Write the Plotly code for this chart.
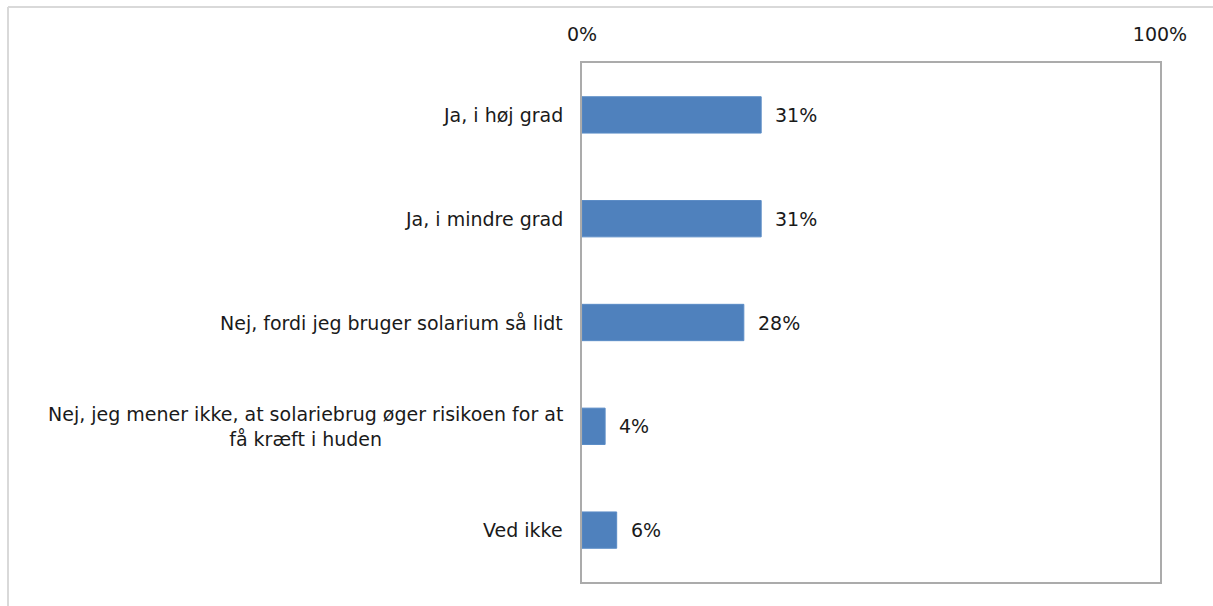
import plotly.graph_objects as go

categories = [
    "Ja, i høj grad",
    "Ja, i mindre grad",
    "Nej, fordi jeg bruger solarium så lidt",
    "Nej, jeg mener ikke, at solariebrug øger risikoen for at<br>få kræft i huden",
    "Ved ikke",
]
values = [31, 31, 28, 4, 6]
tick_vals = [0, 100]
tick_text = ["0%", "100%"]

BAR = "#4f81bd"
FRAME = "#ababab"
FONT = "'DejaVu Sans', 'Noto Sans', sans-serif"
TXT = "#1a1a1a"
FS = 19

ypos = list(range(len(categories)))

fig = go.Figure(
    go.Bar(
        x=values,
        y=ypos,
        orientation="h",
        width=0.35,
        marker=dict(color=BAR, line=dict(color="#5b8cc6", width=1)),
        hoverinfo="skip",
    )
)

# value labels to the right of each bar
for yi, v in zip(ypos, values):
    fig.add_annotation(
        x=v, y=yi, xref="x", yref="y",
        text=f"{v}%", showarrow=False,
        xanchor="left", xshift=12,
        font=dict(family=FONT, size=FS, color=TXT),
    )

# category labels, centred line by line, right-aligned to the axis
for yi, c in zip(ypos, categories):
    fig.add_annotation(
        x=0, y=yi, xref="paper", yref="y",
        text=c, showarrow=False,
        xanchor="right", align="center", xshift=-17,
        font=dict(family=FONT, size=FS, color=TXT),
    )

# outer chart frame (left and top edges)
L, T, PW, PH = 582, 63, 578, 519
fx = (8 - L) / PW
fy = 1 + (T - 7) / PH
fig.add_shape(type="line", xref="paper", yref="paper",
              x0=fx, x1=fx, y0=fy, y1=-1,
              line=dict(color="#d9d9d9", width=2))
fig.add_shape(type="line", xref="paper", yref="paper",
              x0=fx, x1=2, y0=fy, y1=fy,
              line=dict(color="#d9d9d9", width=2))

fig.update_layout(
    width=1213, height=606,
    margin=dict(l=L, r=1213 - L - PW, t=T, b=606 - T - PH),
    paper_bgcolor="white", plot_bgcolor="white",
    showlegend=False,
    font=dict(family=FONT, size=FS, color=TXT),
    xaxis=dict(
        range=[0, 100], side="top",
        tickvals=tick_vals, ticktext=tick_text,
        showgrid=False, zeroline=False,
        showline=True, mirror=True, linecolor=FRAME, linewidth=2,
        ticks="", ticklabelstandoff=12,
        tickfont=dict(family=FONT, size=FS, color=TXT),
        fixedrange=True,
    ),
    yaxis=dict(
        range=[len(categories) - 0.5, -0.5],
        showticklabels=False, showgrid=False, zeroline=False,
        showline=True, mirror=True, linecolor=FRAME, linewidth=2,
        ticks="", fixedrange=True,
    ),
)

fig.write_html("out.html")
